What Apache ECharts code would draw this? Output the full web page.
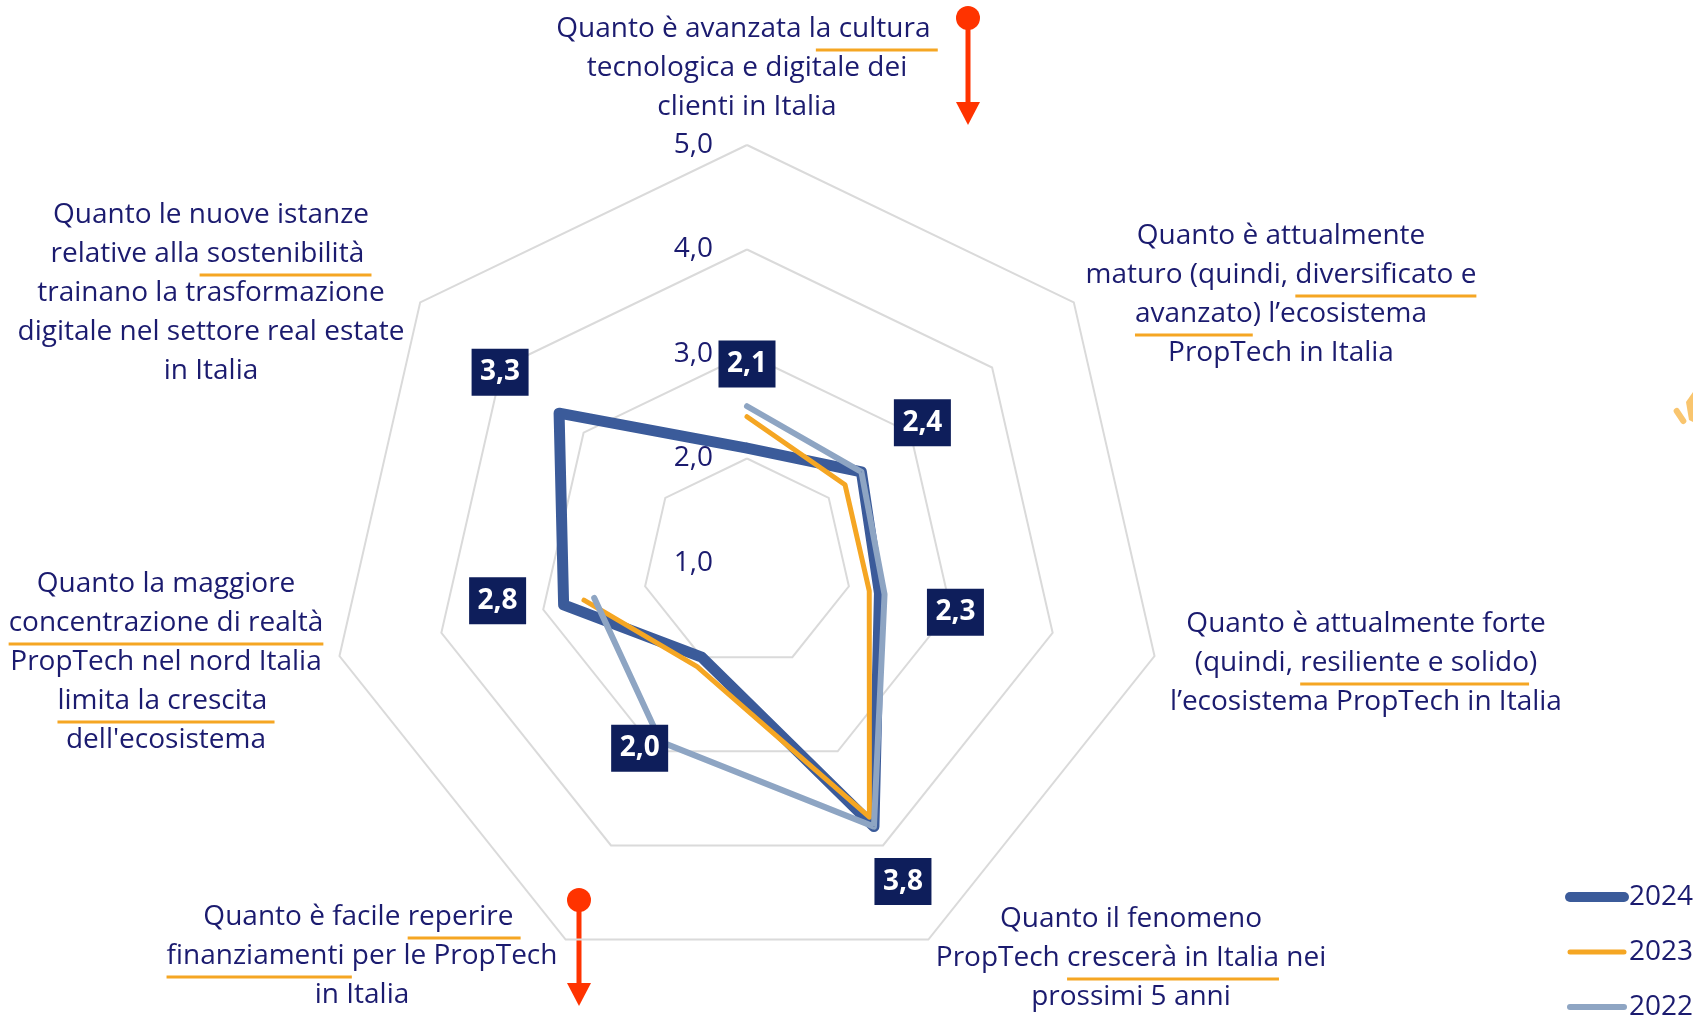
<!DOCTYPE html>
<html><head><meta charset="utf-8">
<script src="https://cdn.jsdelivr.net/npm/echarts@6/dist/echarts.min.js"></script>
<style>html,body{margin:0;padding:0;background:#fff}#chart{width:1693px;height:1016px}</style>
</head><body><div id="chart"></div>
<script>
// ---------- DATA ----------
const categories = [
  ["Quanto è avanzata la cultura ", "tecnologica e digitale dei", "clienti in Italia"],
  ["Quanto è attualmente", "maturo (quindi, diversificato e", "avanzato) l’ecosistema", "PropTech in Italia"],
  ["Quanto è attualmente forte", "(quindi, resiliente e solido)", "l’ecosistema PropTech in Italia"],
  ["Quanto il fenomeno", "PropTech crescerà in Italia nei", "prossimi 5 anni"],
  ["Quanto è facile reperire ", "finanziamenti per le PropTech", "in Italia"],
  ["Quanto la maggiore", "concentrazione di realtà", "PropTech nel nord Italia", "limita la crescita ", "dell'ecosistema"],
  ["Quanto le nuove istanze", "relative alla sostenibilità ", "trainano la trasformazione", "digitale nel settore real estate", "in Italia"]
];
const underlinedWords = [
  [[0, "a cultura "]],
  [[1, "diversificato e"], [2, "avanzato"]],
  [[1, "resiliente e solido"]],
  [[1, "crescerà in Italia"]],
  [[0, "reperire "], [1, "finanziamenti "]],
  [[1, "concentrazione di realtà"], [3, "limita la crescita "]],
  [[1, " sostenibilità "]]
];
const seriesNames = ["2024", "2023", "2022"];
const values2024 = [2.1, 2.4, 2.3, 3.8, 2.0, 2.8, 3.3];
const values2023 = [2.4, 2.2, 2.2, 3.7, 2.1, 2.6, null];
const values2022 = [2.5, 2.4, 2.35, 3.8, 2.9, 2.5, null];
const axisMin = 1, axisMax = 5, axisStep = 1;

// ---------- LAYOUT / STYLE ----------
const FONT = "'Open Sans', 'Noto Sans', sans-serif";
const NAVY = "#1B1B6F";
const ORANGE = "#F5A623";
const RED = "#FF3300";
const CENTER = [747, 563];
const RADIUS = 418;
const colors = ["#3B5B9A", "#F5A623", "#8EA5C3"];
const widths = [11, 5, 6];
const labelOffsets = [[0, -84], [61, -49], [76, 19], [29, 55], [-62, 91], [-66, -4], [-59, -41]];
const catLayout = [[747, 29], [1281, 236], [1366, 624], [1131, 919], [362, 917], [166, 584], [211, 215]];
const LINE_H = 39;
const FS = 28;

const N = categories.length;
const angleOf = i => i * 360 / N;

function polarData(vals) {
  const pts = vals.map((v, i) => [v == null ? '-' : v, angleOf(i)]);
  pts.push([vals[0] == null ? '-' : vals[0], 360]);
  return pts;
}

const allValues = [values2024, values2023, values2022];
const series = allValues.map((vals, s) => {
  const data = polarData(vals).map((p, i) => {
    const item = { value: p };
    if (s === 0 && i < N) {
      item.label = { show: true, offset: labelOffsets[i] };
    }
    return item;
  });
  return {
    name: seriesNames[s], type: 'line', coordinateSystem: 'polar',
    data: data, symbol: 'circle', symbolSize: 1, showSymbol: true,
    connectNulls: false, silent: true, z: 3,
    itemStyle: { color: colors[s] },
    lineStyle: { color: colors[s], width: widths[s], cap: 'round', join: 'round' },
    label: {
      show: false, position: 'inside',
      formatter: p => p.value[0].toFixed(1).replace('.', ','),
      color: '#fff', fontWeight: 'bold', fontSize: 28, fontFamily: FONT,
      backgroundColor: '#0E1E5B', padding: [8, 8], width: 41, height: 31,
      lineHeight: 31, align: 'center', verticalAlign: 'middle'
    }
  };
});

// text measuring for underlines
const mctx = document.createElement('canvas').getContext('2d');
mctx.font = FS + 'px ' + FONT;
const mw = t => mctx.measureText(t).width;

const graphics = [];
categories.forEach((lines, c) => {
  const [cx, cy] = catLayout[c];
  lines.forEach((ln, li) => {
    graphics.push({
      type: 'text', x: cx, y: cy + li * LINE_H, silent: true,
      style: { text: ln, fill: NAVY, fontSize: FS, fontFamily: FONT, align: 'center', verticalAlign: 'middle' }
    });
  });
  underlinedWords[c].forEach(([li, word]) => {
    const ln = lines[li];
    const idx = ln.indexOf(word);
    if (idx < 0) return;
    const left = cx - mw(ln) / 2;
    const x1 = left + mw(ln.substring(0, idx));
    const x2 = x1 + mw(word);
    const y = cy + li * LINE_H + 21;
    graphics.push({ type: 'line', silent: true, shape: { x1, y1: y, x2, y2: y }, style: { stroke: ORANGE, lineWidth: 3 } });
  });
});

// red arrows
function arrow(x, y0, y1) {
  graphics.push({ type: 'line', silent: true, shape: { x1: x, y1: y0, x2: x, y2: y1 - 20 }, style: { stroke: RED, lineWidth: 5 } });
  graphics.push({ type: 'circle', silent: true, shape: { cx: x, cy: y0, r: 12 }, style: { fill: RED } });
  graphics.push({ type: 'polygon', silent: true, shape: { points: [[x - 12, y1 - 23], [x + 12, y1 - 23], [x, y1]] }, style: { fill: RED } });
}
arrow(968, 18, 125);
arrow(579, 900, 1006);

// small decoration at right edge
graphics.push({ type: 'rect', silent: true, x: 1680, y: 416, rotation: -Math.PI / 3.2, originX: 0, originY: 0,
  shape: { x: -9, y: -3, width: 18, height: 6, r: 3 }, style: { fill: '#F9C56E' } });
graphics.push({ type: 'polygon', silent: true, shape: { points: [[1686, 402], [1693, 392], [1693, 422], [1689, 420]] }, style: { fill: '#F9C56E' } });

const option = {
  animation: false,
  backgroundColor: '#fff',
  radar: {
    center: CENTER, radius: RADIUS, startAngle: 90, shape: 'polygon', splitNumber: 4,
    indicator: categories.map(() => ({ min: axisMin, max: axisMax })),
    axisName: { show: false },
    axisLine: { show: false }, axisTick: { show: false }, axisLabel: { show: false },
    splitArea: { show: false },
    splitLine: { lineStyle: { color: '#DADADA', width: 2 } },
    silent: true
  },
  polar: { center: CENTER, radius: RADIUS },
  angleAxis: { type: 'value', min: 0, max: 360, startAngle: 90, clockwise: true, show: false },
  radiusAxis: {
    type: 'value', min: axisMin, max: axisMax, interval: axisStep,
    axisLine: { show: false }, axisTick: { show: false }, splitLine: { show: false },
    axisLabel: { show: true, margin: 34, color: NAVY, fontSize: FS, fontFamily: FONT,
      showMinLabel: true, showMaxLabel: true,
      formatter: v => v.toFixed(1).replace('.', ',') },
    z: 1
  },
  legend: {
    orient: 'vertical', left: 1560, top: 878, height: 200, itemWidth: 54, itemHeight: 14, itemGap: 27,
    selectedMode: false,
    textStyle: { color: NAVY, fontSize: FS, fontFamily: FONT, lineHeight: 28 },
    itemStyle: { opacity: 0 },
    data: seriesNames.map((n, i) => ({ name: n, lineStyle: { width: widths[i] === 11 ? 10 : widths[i], cap: 'round', color: colors[i] } }))
  },
  graphic: { elements: graphics },
  series: series
};

const chart = echarts.init(document.getElementById('chart'), null, { renderer: 'canvas' });
chart.setOption(option);
</script>
</body></html>
